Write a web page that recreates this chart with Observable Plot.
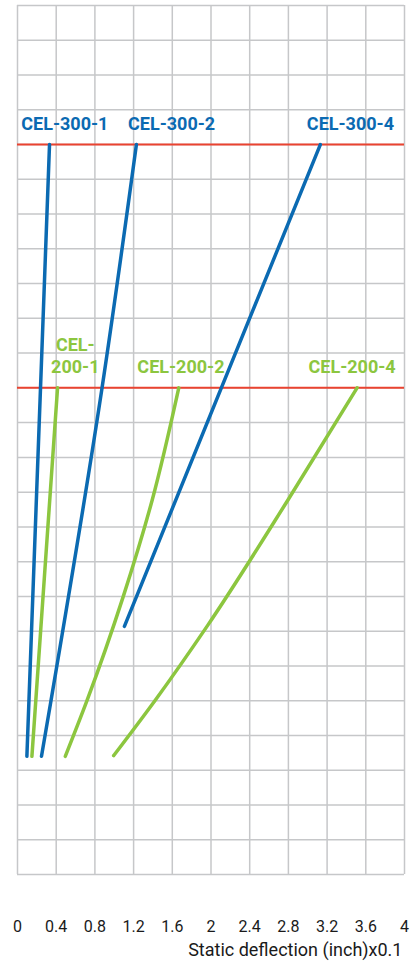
<!DOCTYPE html>
<html><head><meta charset="utf-8">
<script src="https://cdn.jsdelivr.net/npm/d3@7"></script>
<script src="https://cdn.jsdelivr.net/npm/@observablehq/plot@0.6"></script>
<style>body{margin:0;background:#fff} svg{display:block}</style>
</head><body><div id="chart"></div>
<script>
// x tick values and labels (static deflection, inch x0.1)
const xTicks = [0, 0.4, 0.8, 1.2, 1.6, 2, 2.4, 2.8, 3.2, 3.6, 4];
const xTickLabels = ["0", "0.4", "0.8", "1.2", "1.6", "2", "2.4", "2.8", "3.2", "3.6", "4"];
// horizontal grid levels (unlabelled y axis)
const yGrid = [0,1,2,3,4,5,6,7,8,9,10,11,12,13,14,15,16,17,18,19,20,21,22,23,24,25];
// red reference levels
const redLevels = [21, 14];

// series (x = deflection, y = unlabelled vertical value)
const cel300_1_x = [0.097, 0.331];
const cel300_1_y = [3.4, 21.0];
const cel300_2_x = [0.248, 0.346, 0.874, 1.229];
const cel300_2_y = [3.4, 5.0, 14.0, 21.0];
const cel300_4_x = [1.105, 3.13];
const cel300_4_y = [7.14, 21.0];
const cel200_1_x = [0.149, 0.414];
const cel200_1_y = [3.4, 14.0];
const cel200_2_x = [0.494, 0.718, 1.091, 1.391, 1.667];
const cel200_2_y = [3.4, 5.0, 7.98, 10.76, 14.0];
const cel200_4_x = [0.994, 1.42, 1.964, 2.792, 3.51];
const cel200_4_y = [3.42, 5.0, 7.16, 10.76, 14.0];

// labels
const labelText = ["CEL-300-1", "CEL-300-2", "CEL-300-4", "CEL-\n200-1", "CEL-200-2", "CEL-200-4"];
const labelX = [0.489, 1.593, 3.441, 0.597, 1.689, 3.458];
const labelY = [21.63, 21.63, 21.63, 14.94, 14.63, 14.63];
const labelGroup = ["300", "300", "300", "200", "200", "200"];

const BLUE = "#0b6ab2", GREEN = "#8cc63f", RED = "#ea4330", GRID = "#c6c7c9";

function rows(name, xs, ys) { return xs.map((x, i) => ({series: name, x, y: ys[i]})); }
const blueRows = [
  ...rows("CEL-300-1", cel300_1_x, cel300_1_y),
  ...rows("CEL-300-2", cel300_2_x, cel300_2_y),
  ...rows("CEL-300-4", cel300_4_x, cel300_4_y)
];
const greenRows = [
  ...rows("CEL-200-1", cel200_1_x, cel200_1_y),
  ...rows("CEL-200-2", cel200_2_x, cel200_2_y),
  ...rows("CEL-200-4", cel200_4_x, cel200_4_y)
];
const labels = labelText.map((t, i) => ({text: t, x: labelX[i], y: labelY[i], g: labelGroup[i]}));

const chart = Plot.plot({
  width: 414,
  height: 968,
  marginTop: 5,
  marginLeft: 17,
  marginRight: 10,
  marginBottom: 94,
  style: {fontFamily: "'Liberation Sans Narrow', 'Roboto', sans-serif", fontSize: "16px", color: "#1a1a1a", background: "#fff"},
  x: {domain: [0, 4]},
  y: {domain: [0, 25], axis: null},
  marks: [
    Plot.ruleX(xTicks, {stroke: GRID, strokeWidth: 1.5}),
    Plot.ruleY(yGrid, {stroke: GRID, strokeWidth: 1.5}),
    Plot.ruleY(redLevels, {stroke: RED, strokeWidth: 2}),
    Plot.line(blueRows, {x: "x", y: "y", z: "series", stroke: BLUE, strokeWidth: 3.5, curve: "monotone-y", strokeLinecap: "round"}),
    Plot.line(greenRows, {x: "x", y: "y", z: "series", stroke: GREEN, strokeWidth: 3.5, curve: "monotone-y", strokeLinecap: "round"}),
    Plot.text(labels.filter(d => d.g === "300"), {x: "x", y: "y", text: "text", fill: BLUE, fontWeight: "bold", fontSize: 18, fontFamily: "Roboto", lineHeight: 1.22}),
    Plot.text(labels.filter(d => d.g === "200"), {x: "x", y: "y", text: "text", fill: GREEN, fontWeight: "bold", fontSize: 18, fontFamily: "Roboto", lineHeight: 1.22}),
    Plot.axisX(xTicks, {tickSize: 0, tickPadding: 46, tickFormat: (d, i) => xTickLabels[i], label: null}),
    Plot.text(["Static deflection (inch)x0.1"], {frameAnchor: "bottom-right", dy: 81, dx: -2, textAnchor: "end", fontSize: 18, fill: "#1a1a1a"})
  ]
});
document.getElementById("chart").appendChild(chart);
</script>
</body></html>
